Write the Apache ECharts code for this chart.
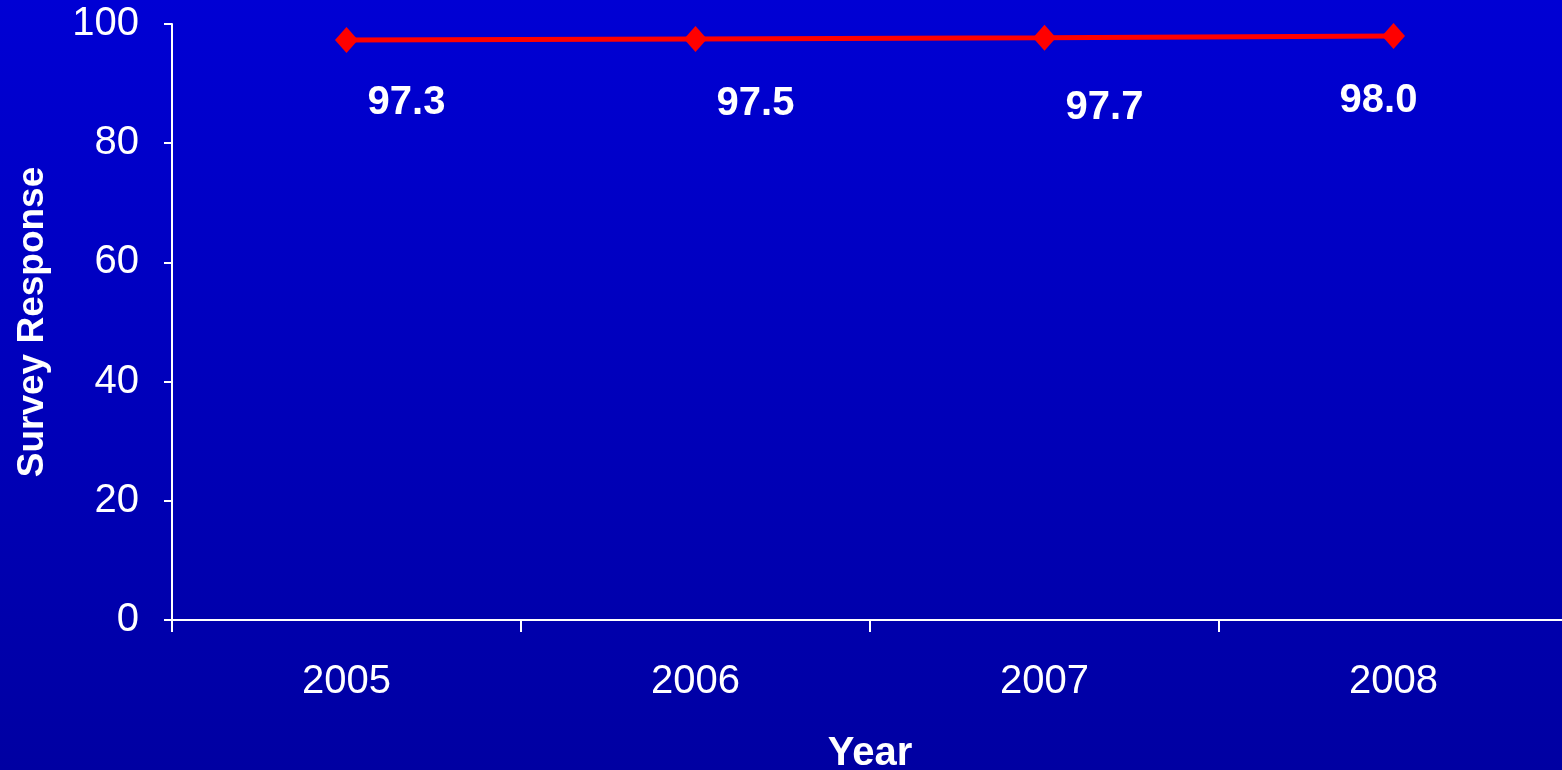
<!DOCTYPE html>
<html>
<head>
<meta charset="utf-8">
<script src="https://cdn.jsdelivr.net/npm/echarts@6/dist/echarts.min.js"></script>
<style>
  html, body { margin: 0; padding: 0; }
  #chart { width: 1562px; height: 770px; }
</style>
</head>
<body>
<div id="chart"></div>
<script>
// Survey response rate by year
const years = ['2005', '2006', '2007', '2008'];
const responseValues = [97.3, 97.5, 97.7, 98.0];
const yTicks = [0, 20, 40, 60, 80, 100];

// label placement for each value tag (offset from its point)
const labelOffsets = [[60, 63], [60, 65], [60, 70], [-15, 65]];

const chart = echarts.init(document.getElementById('chart'));

chart.setOption({
  backgroundColor: {
    type: 'linear', x: 0, y: 0, x2: 0, y2: 1,
    colorStops: [
      { offset: 0, color: '#0000D4' },
      { offset: 1, color: '#0000A2' }
    ]
  },
  animation: false,
  grid: {
    left: 172, top: 24, width: 1396, height: 596,
    containLabel: false, outerBoundsMode: 'none'
  },
  xAxis: {
    type: 'category',
    data: years,
    boundaryGap: true,
    name: 'Year',
    nameLocation: 'middle',
    nameGap: 114,
    nameTextStyle: { color: '#ffffff', fontFamily: 'Liberation Sans', fontWeight: 'bold', fontSize: 40 },
    axisLine: { lineStyle: { color: '#ffffff', width: 2 } },
    axisTick: { show: true, length: 12, lineStyle: { color: '#ffffff', width: 2 } },
    axisLabel: { color: '#ffffff', fontFamily: 'Liberation Sans', fontSize: 40, margin: 42 },
    splitLine: { show: false }
  },
  yAxis: {
    type: 'value',
    min: yTicks[0],
    max: yTicks[yTicks.length - 1],
    interval: 20,
    name: 'Survey Response',
    nameLocation: 'middle',
    nameGap: 121,
    nameRotate: 90,
    nameTextStyle: { color: '#ffffff', fontFamily: 'Liberation Sans', fontWeight: 'bold', fontSize: 37 },
    axisLine: { show: true, lineStyle: { color: '#ffffff', width: 2 } },
    axisTick: { show: true, inside: false, length: 8, lineStyle: { color: '#ffffff', width: 2 } },
    axisLabel: { color: '#ffffff', fontFamily: 'Liberation Sans', fontSize: 40, margin: 33 },
    splitLine: { show: false }
  },
  series: [{
    type: 'line',
    data: responseValues.map((v, i) => ({
      value: v,
      label: { offset: labelOffsets[i] }
    })),
    symbol: 'diamond',
    symbolSize: [23, 26],
    lineStyle: { color: '#ff0000', width: 5 },
    itemStyle: { color: '#ff0000' },
    label: {
      show: true,
      position: 'inside',
      formatter: p => p.value.toFixed(1),
      color: '#ffffff',
      fontFamily: 'Liberation Sans',
      fontWeight: 'bold',
      fontSize: 40
    }
  }]
});
</script>
</body>
</html>
